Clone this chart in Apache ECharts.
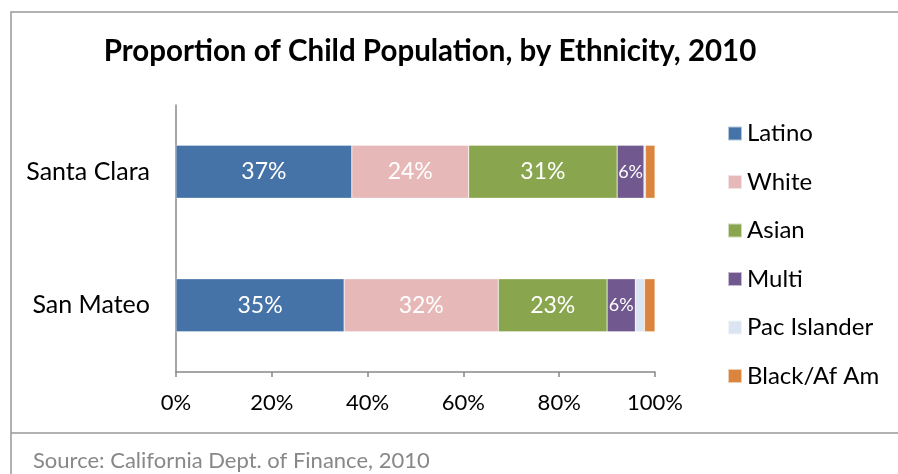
<!DOCTYPE html>
<html><head><meta charset="utf-8">
<script src="https://cdn.jsdelivr.net/npm/echarts@6/dist/echarts.min.js"></script>
<style>html,body{margin:0;padding:0;background:#fff}#c{width:898px;height:474px}</style>
</head><body><div id="c"></div>
<script>
var categories = ['San Mateo', 'Santa Clara'];
var seriesNames = ['Latino', 'White', 'Asian', 'Multi', 'Pac Islander', 'Black/Af Am'];
var latino = [35.1, 36.7];
var white = [32.2, 24.4];
var asian = [22.7, 31.0];
var multi = [5.9, 5.6];
var pacIslander = [1.9, 0.3];
var black = [2.2, 2.0];
var xTicks = [0, 20, 40, 60, 80, 100];
var colors = ['#4572A7', '#E6B9B8', '#89A54E', '#71588F', '#DBE5F1', '#DB843D'];
var values = [latino, white, asian, multi, pacIslander, black];
var labelSizes = [23, 23, 23, 18, 0, 0];
var font = 'Lato, "Open Sans", sans-serif';

var chart = echarts.init(document.getElementById('c'));
var series = seriesNames.map(function (n, i) {
  return {
    name: n, type: 'bar', stack: 'total', barWidth: 53,
    data: values[i],
    itemStyle: { color: colors[i], borderColor: 'rgba(255,255,255,0.6)', borderWidth: 0.5 },
    label: {
      show: labelSizes[i] > 0, position: 'inside', color: '#fff',
      fontSize: labelSizes[i], fontFamily: font,
      formatter: function (p) { return Math.round(p.value) + '%'; }
    },
    emphasis: { disabled: true }
  };
});

chart.setOption({
  animation: false,
  title: {
    text: 'Proportion of Child Population, by Ethnicity, 2010',
    left: 425, top: 31, textAlign: 'center',
    textStyle: { fontFamily: font, fontWeight: 'bold', fontSize: 29.5, color: '#000' }
  },
  legend: {
    orient: 'vertical', left: 722, top: 115,
    itemWidth: 14, itemHeight: 14, itemGap: 21.5,
    icon: 'rect',
    data: seriesNames,
    textStyle: { fontFamily: font, fontSize: 24, color: '#000', lineHeight: 27 }
  },
  grid: { left: 176, right: 243, top: 105, bottom: 102, containLabel: false },
  xAxis: {
    type: 'value', min: 0, max: 100, interval: 20,
    axisLine: { show: true, lineStyle: { color: '#888', width: 1.5 } },
    axisTick: { show: true, length: 5, lineStyle: { color: '#888', width: 1.5 } },
    splitLine: { show: false },
    axisLabel: {
      fontFamily: font, fontSize: 22, color: '#000', margin: 20,
      formatter: function (v) { return xTicks.indexOf(v) >= 0 ? v + '%' : ''; }
    }
  },
  yAxis: {
    type: 'category', data: categories,
    axisLine: { show: true, lineStyle: { color: '#888', width: 1.5 } },
    axisTick: { show: false },
    axisLabel: { fontFamily: font, fontSize: 25, color: '#000', margin: 26 }
  },
  graphic: [
    { type: 'rect', shape: { x: 11, y: 12, width: 1000, height: 1000 }, style: { fill: 'none', stroke: '#999', lineWidth: 1.5 } },
    { type: 'line', shape: { x1: 11, y1: 433, x2: 898, y2: 433 }, style: { stroke: '#999', lineWidth: 1.5 } },
    { type: 'text', left: 33, top: 450, style: { text: 'Source: California Dept. of Finance, 2010', fill: '#888', fontSize: 22, fontFamily: font } }
  ],
  series: series
});
</script></body></html>
